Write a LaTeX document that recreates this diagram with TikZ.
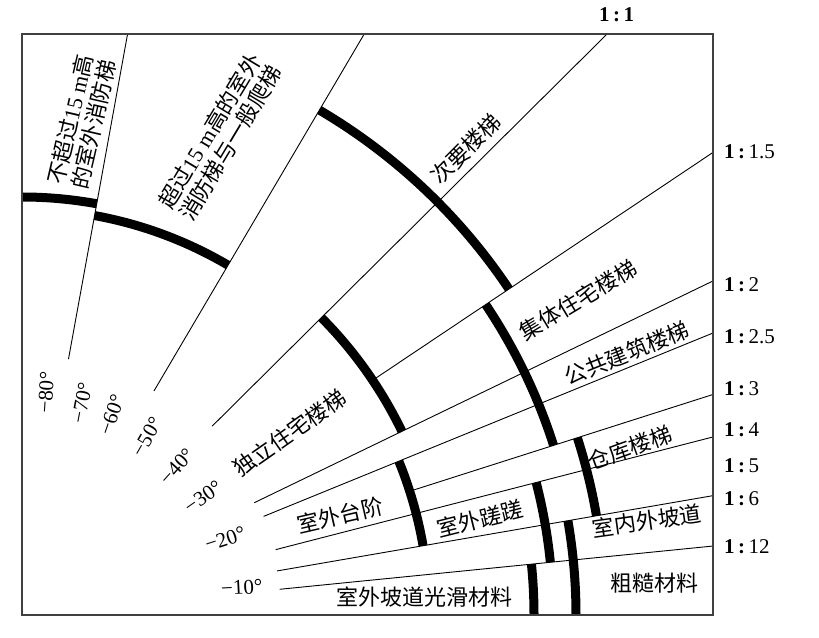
\documentclass[tikz,border=0pt]{standalone}
\usepackage{fontspec}
\setmainfont{Liberation Serif}
\newfontfamily\cjk{Noto Sans CJK SC}
\begin{document}
\begin{tikzpicture}[x=1pt,y=1pt,
  thinline/.style={line width=0.9pt},
  band/.style={line width=9pt, line cap=butt},
  zhlabel/.style={font=\fontsize{22}{24}\selectfont\cjk, align=center, inner sep=0pt},
  anglabel/.style={font=\fontsize{21}{22}\selectfont, inner sep=0pt},
  slopelabel/.style={font=\fontsize{21}{24}\selectfont, anchor=west, inner sep=0pt}]
\useasboundingbox (-22,-22) rectangle (797,615);
\coordinate (C) at (0,0);
% radial lines
\begin{scope}
\clip (0,0) rectangle (691,581);
\coordinate (l80a) at (79.7:260);  \coordinate (l80b) at (79.7:1200);
\coordinate (l60a) at (59.5:260);  \coordinate (l60b) at (59.5:1200);
\coordinate (l45a) at (44.8:268);  \coordinate (l45b) at (44.8:1200);
\coordinate (l15a) at (33.8:422);  \coordinate (l15b) at (33.8:1200);
\coordinate (l2a) at (25.8:258);   \coordinate (l2b) at (25.8:1200);
\coordinate (l25a) at (22.2:261);  \coordinate (l25b) at (22.2:1200);
\coordinate (l3a) at (17.7:407);   \coordinate (l3b) at (17.7:1200);
\coordinate (l4a) at (14.45:262);  \coordinate (l4b) at (14.45:1200);
\coordinate (l6a) at (9.8:259);    \coordinate (l6b) at (9.8:1200);
\coordinate (l12a) at (5.7:259);   \coordinate (l12b) at (5.7:1200);
\foreach \n in {l80,l60,l45,l15,l2,l25,l3,l4,l6,l12}
  \draw[thinline] (\n a) -- (\n b);
% thick arcs
\draw[band] (79.7:418) arc[start angle=79.7, end angle=90, radius=418];
\draw[band] (59.5:406) arc[start angle=59.5, end angle=79.7, radius=406];
\draw[band] (33.8:586) arc[start angle=33.8, end angle=59.5, radius=586];
\draw[band] (25.8:422) arc[start angle=25.8, end angle=44.8, radius=422];
\draw[band] (17.7:558) arc[start angle=17.7, end angle=33.8, radius=558];
\draw[band] (9.8:583) arc[start angle=9.8, end angle=17.7, radius=583];
\draw[band] (9.8:407) arc[start angle=9.8, end angle=22.2, radius=407];
\draw[band] (0:554) arc[start angle=0, end angle=9.8, radius=554];
\draw[band] (5.7:531) arc[start angle=5.7, end angle=14.45, radius=531];
\draw[band] (0:512) arc[start angle=0, end angle=5.7, radius=512];
\end{scope}
% frame
\draw[line width=1.2pt, black!75] (0,0) rectangle (691,581);
% region labels
\node[zhlabel, rotate=77] (t1) at (60,493) {不超过{\rmfamily 15 m}高\\的室外消防梯};
\node[zhlabel, rotate=59] (t2) at (198,478) {超过{\rmfamily 15 m}高的室外\\消防梯与一般爬梯};
\node[zhlabel, rotate=45] (t3) at (444,466) {次要楼梯};
\node[zhlabel, rotate=31] (t4) at (556,315) {集体住宅楼梯};
\node[zhlabel, rotate=22] (t5) at (605,262) {公共建筑楼梯};
\node[zhlabel, rotate=35] (t6) at (268,182) {独立住宅楼梯};
\node[zhlabel, rotate=13] (t7) at (318,100) {室外台阶};
\node[zhlabel, rotate=14] (t8) at (458,96) {室外蹉蹉};
\node[zhlabel, rotate=20] (t9) at (608,167) {仓库楼梯};
\node[zhlabel, rotate=8] (t10) at (625,94) {室内外坡道};
\node[zhlabel] (t11) at (632,32) {粗糙材料};
\node[zhlabel] (t12) at (402,18) {室外坡道光滑材料};
% angle labels
\node[anglabel, rotate=86] (a80) at (24,222.5) {−80°};
\node[anglabel, rotate=79] (a70) at (59.7,212) {−70°};
\node[anglabel, rotate=71] (a60) at (89.7,200) {−60°};
\node[anglabel, rotate=60] (a50) at (124.7,178) {−50°};
\node[anglabel, rotate=48] (a40) at (154.7,148.5) {−40°};
\node[anglabel, rotate=35] (a30) at (181,118) {−30°};
\node[anglabel, rotate=18] (a20) at (203,76) {−20°};
\node[anglabel, rotate=3] (a10) at (219.7,27.5) {−10°};
% slope labels
\node[slopelabel, anchor=center] (s1) at (594.7,600) {\textbf{1\,:\,1}};
\node[slopelabel] (s15) at (702,463) {\textbf{1\,:}\,1.5};
\node[slopelabel] (s2) at (702,330) {\textbf{1\,:}\,2};
\node[slopelabel] (s25) at (702,278.3) {\textbf{1\,:}\,2.5};
\node[slopelabel] (s3) at (702,226) {\textbf{1\,:}\,3};
\node[slopelabel] (s4) at (702,185) {\textbf{1\,:}\,4};
\node[slopelabel] (s5) at (702,149.3) {\textbf{1\,:}\,5};
\node[slopelabel] (s6) at (702,116) {\textbf{1\,:}\,6};
\node[slopelabel] (s12) at (702,68) {\textbf{1\,:}\,12};
\end{tikzpicture}
\end{document}
